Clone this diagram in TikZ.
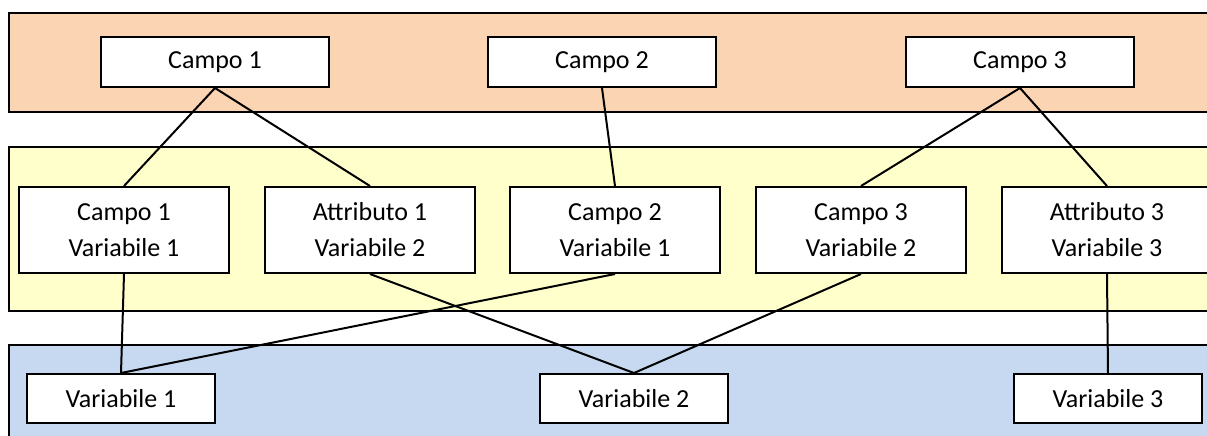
\documentclass[tikz,border=0pt]{standalone}
\usepackage{fontspec}
\setmainfont{Carlito}

\begin{document}
\begin{tikzpicture}[x=0.5pt, y=-0.5pt, line width=1pt,
    box/.style={draw=black, fill=white, line width=1pt, inner sep=0pt,
      align=center, font=\fontsize{13}{18}\selectfont},
    campobox/.style={box, minimum width=114pt, minimum height=25pt},
    mixbox/.style={box, minimum width=105pt, minimum height=43pt},
    varbox/.style={box, minimum width=94pt, minimum height=24.5pt}]
  % Define colors
  \definecolor{topcolor}{HTML}{FBD4B4}
  \definecolor{midcolor}{HTML}{FFFFCC}
  \definecolor{botcolor}{HTML}{C6D9F1}

  \useasboundingbox (0,0) rectangle (1207,435);
  \clip (0,0) rectangle (1207,435);

  % Bands
  \filldraw[fill=topcolor, draw=black] (9,13) rectangle (1230,112);
  \filldraw[fill=midcolor, draw=black] (9,147) rectangle (1230,311);
  \filldraw[fill=botcolor, draw=black] (9,345) rectangle (1230,460);

  % Fields
  \foreach \x/\name/\label in {215/campoA/{Campo 1}, 602/campoB/{Campo 2}, 1020/campoC/{Campo 3}}
    \node[campobox] (\name) at (\x,62) {\label};

  % Field / variable pairs
  \foreach \x/\name/\label in {124/mixA/{Campo 1\\Variabile 1}, 370/mixB/{Attributo 1\\Variabile 2},
      615/mixC/{Campo 2\\Variabile 1}, 861/mixD/{Campo 3\\Variabile 2},
      1107/mixE/{Attributo 3\\Variabile 3}}
    \node[mixbox] (\name) at (\x,230) {\label};

  % Variables
  \foreach \x/\name/\label in {121/varA/{Variabile 1}, 634/varB/{Variabile 2}, 1108/varC/{Variabile 3}}
    \node[varbox] (\name) at (\x,398.5) {\label};

  % Links between the levels
  \draw (campoA.south) -- (mixA.north);
  \draw (campoA.south) -- (mixB.north);
  \draw (campoB.south) -- (mixC.north);
  \draw (campoC.south) -- (mixD.north);
  \draw (campoC.south) -- (mixE.north);

  \draw (mixA.south) -- (varA.north);
  \draw (mixC.south) -- (varA.north);
  \draw (mixB.south) -- (varB.north);
  \draw (mixD.south) -- (varB.north);
  \draw (mixE.south) -- (varC.north);
\end{tikzpicture}
\end{document}
